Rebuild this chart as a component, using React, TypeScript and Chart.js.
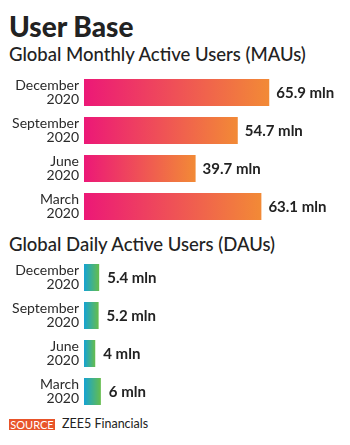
import React, { useEffect, useRef } from "react";
import { Chart, registerables } from "chart.js";

Chart.register(...registerables);

const categories: string[][] = [
  ["December", "2020"],
  ["September", "2020"],
  ["June", "2020"],
  ["March", "2020"],
];
const mauValues = [65.9, 54.7, 39.7, 63.1];
const dauValues = [5.4, 5.2, 4, 6];
const mauColors = ["#ec1877", "#f28a36"];
const dauColors = ["#16a3d3", "#66bd4c"];
const FONT = "Lato, 'Open Sans', sans-serif";

const valueLabelPlugin = {
  id: "valueLabels",
  afterDatasetsDraw(chart: any, _args: any, opts: any) {
    const { ctx } = chart;
    const meta = chart.getDatasetMeta(0);
    const data = chart.data.datasets[0].data as number[];
    ctx.save();
    ctx.font = `bold 15px ${FONT}`;
    ctx.fillStyle = "#222";
    ctx.textBaseline = "middle";
    ctx.textAlign = "left";
    meta.data.forEach((bar: any, i: number) => {
      ctx.fillText(`${data[i]} mln`, bar.x + (opts.offset || 7), bar.y + 1);
    });
    ctx.restore();
  },
};

function BarChart({ values, colors, offset }: { values: number[]; colors: string[]; offset: number }) {
  const ref = useRef<HTMLCanvasElement>(null);
  useEffect(() => {
    const chart = new Chart(ref.current!, {
      type: "bar",
      data: {
        labels: categories,
        datasets: [
          {
            data: values,
            borderWidth: 0,
            barPercentage: 1,
            categoryPercentage: 0.71,
            backgroundColor: (c: any) => {
              const ch = c.chart;
              const x = ch.scales?.x;
              if (!ch.chartArea || !x || c.raw == null) return colors[0];
              const x0 = x.getPixelForValue(0);
              const x1 = x.getPixelForValue(c.raw);
              const g = ch.ctx.createLinearGradient(x0, 0, x1, 0);
              g.addColorStop(0, colors[0]);
              g.addColorStop(1, colors[1]);
              return g;
            },
          },
        ],
      },
      options: {
        indexAxis: "y",
        animation: false,
        responsive: false,
        maintainAspectRatio: false,
        layout: { padding: { top: 3.5, bottom: 1.5, left: 0, right: 13 } },
        plugins: {
          legend: { display: false },
          tooltip: { enabled: false },
          valueLabels: { offset },
        } as any,
        scales: {
          x: { display: false, min: 0, max: 90 },
          y: {
            grid: { display: false, drawTicks: false },
            border: { display: false },
            afterFit: (s: any) => {
              s.width = 84;
              s.paddingTop = 0;
              s.paddingBottom = 0;
            },
            ticks: {
              padding: 5,
              color: "#2a2a2a",
              font: { family: FONT, size: 14, lineHeight: 1.0 },
            },
          },
        },
      },
      plugins: [valueLabelPlugin],
    });
    return () => chart.destroy();
  }, []);
  return <canvas ref={ref} width={350} height={157} style={{ display: "block" }} />;
}

export default function App() {
  useEffect(() => {
    document.body.style.margin = "0";
  }, []);
  const text: React.CSSProperties = { position: "absolute", left: 9, fontFamily: FONT, color: "#222", whiteSpace: "nowrap" };
  return (
    <div style={{ position: "relative", width: 350, height: 445, background: "#fff", overflow: "hidden" }}>
      <div style={{ ...text, top: 8, fontSize: 28, fontWeight: 900, lineHeight: "36px" }}>User Base</div>
      <div style={{ ...text, top: 42, fontSize: 18.5, fontWeight: 500, lineHeight: "24px" }}>
        Global Monthly Active Users (MAUs)
      </div>
      <div style={{ position: "absolute", left: 0, top: 70 }}>
        <BarChart values={mauValues} colors={mauColors} offset={7} />
      </div>
      <div style={{ ...text, top: 232, fontSize: 18.5, fontWeight: 500, lineHeight: "24px" }}>
        Global Daily Active Users (DAUs)
      </div>
      <div style={{ position: "absolute", left: 0, top: 255 }}>
        <BarChart values={dauValues} colors={dauColors} offset={8} />
      </div>
      <div
        style={{
          position: "absolute",
          left: 9,
          top: 419,
          width: 46,
          height: 11,
          background: "#e8542a",
          color: "#fff",
          fontFamily: FONT,
          fontSize: 11,
          lineHeight: "11px",
          textAlign: "center",
        }}
      >
        SOURCE
      </div>
      <div style={{ ...text, left: 62, top: 416, fontSize: 12.5, lineHeight: "16px" }}>ZEE5 Financials</div>
    </div>
  );
}
